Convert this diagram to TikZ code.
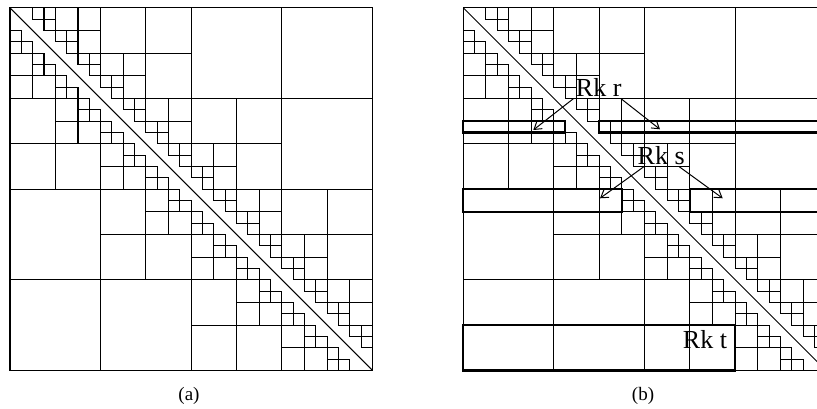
\documentclass[tikz,border=0pt]{standalone}
\usepackage{fontspec}
\setmainfont{Liberation Serif}
\usetikzlibrary{arrows.meta}
\tikzset{
  blk/.style={line width=1.05pt},
  rkbox/.style={line width=2.3pt},
  rklabel/.style={inner sep=0pt, anchor=base, font=\fontsize{26}{26}\selectfont},
  captxt/.style={inner sep=0pt, anchor=base, font=\fontsize{19}{19}\selectfont},
  rkarrow/.style={line width=1pt, -{Straight Barb[length=7pt,width=9pt]}}
}
\newcommand\hpartition{%
  \foreach \s/\n in {1/31,2/15,4/7,8/3} {
    \foreach \i in {0,...,\n} {
      \ifodd\i \def\offs{-3,-2,2}\else\def\offs{-2,2,3}\fi
      \foreach \d in \offs {
        \pgfmathtruncatemacro\j{\i+\d}
        \ifnum\j>-1 \ifnum\j<\numexpr\n+1\relax
          \draw[blk] (\j*\s,\i*\s) rectangle ++(\s,\s);
        \fi\fi
      }
    }
  }
  \draw[blk] (0,0) rectangle (32,32);
  \draw[blk] (0,0) -- (32,32);
}
\begin{document}
\begin{tikzpicture}[x=1pt,y=-1pt]
\useasboundingbox (0,0) rectangle (817,409);
\fill[white] (0,0) rectangle (817,409);
% panel (a)
\begin{scope}[shift={(10,7.8)}, x=11.33pt, y=-11.33pt]
  \hpartition
\end{scope}
\node[captxt] (capa) at (189,400) {(a)};
% panel (b)
\begin{scope}
  \clip (0,0) rectangle (817,409);
  \begin{scope}[shift={(463.3,7.8)}, x=11.33pt, y=-11.33pt]
    \hpartition
    \draw[rkbox] (0,10) rectangle (9,11);
    \draw[rkbox] (12,10) rectangle (32,11);
    \draw[rkbox] (0,16) rectangle (14,18);
    \draw[rkbox] (20,16) rectangle (32,18);
    \draw[rkbox] (0,28) rectangle (24,32);
  \end{scope}
\end{scope}
\node[rklabel] (rkr) at (598.7,96.7) {Rk r};
\node[rklabel] (rks) at (661.2,165) {Rk s};
\node[rklabel] (rkt) at (705,348.3) {Rk t};
\coordinate (r1) at (533.3,130);
\coordinate (r2) at (660,129.3);
\coordinate (s1) at (600,198.3);
\coordinate (s2) at (722.7,198.3);
\draw[rkarrow] ([xshift=-2pt,yshift=-1.5pt]rkr.south west) -- (r1);
\draw[rkarrow] ([xshift=-1pt,yshift=-1.5pt]rkr.south east) -- (r2);
\draw[rkarrow] ([xshift=6pt,yshift=-1.5pt]rks.south west) -- (s1);
\draw[rkarrow] ([xshift=-6pt,yshift=-1pt]rks.south east) -- (s2);
\node[captxt] (capb) at (643,400) {(b)};
\end{tikzpicture}
\end{document}
